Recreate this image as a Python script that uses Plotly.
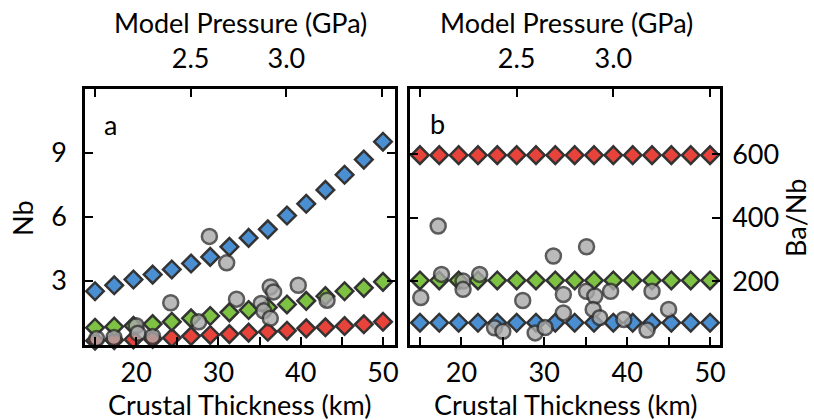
import plotly.graph_objects as go

# ---------------- data ----------------
thickness = [15.0, 17.33, 19.67, 22.0, 24.33, 26.67, 29.0, 31.33, 33.67, 36.0,
             38.33, 40.67, 43.0, 45.33, 47.67, 50.0]

nb_blue = [2.52, 2.80, 3.07, 3.30, 3.54, 3.82, 4.13, 4.60, 5.02, 5.42,
           6.07, 6.62, 7.27, 7.98, 8.69, 9.53]
nb_green = [0.81, 0.86, 0.90, 0.98, 1.09, 1.25, 1.36, 1.53, 1.64, 1.76,
            1.90, 2.07, 2.29, 2.52, 2.68, 2.96]
nb_red = [0.20, 0.23, 0.26, 0.28, 0.34, 0.42, 0.47, 0.51, 0.58, 0.62,
          0.67, 0.78, 0.83, 0.89, 0.97, 1.09]

banb_red = [597] * 16
banb_green = [203] * 16
banb_blue = [70] * 16

obs_nb_x = [15.2, 17.3, 20.0, 20.2, 22.0, 24.2, 27.6, 28.9, 31.0, 32.2,
            35.2, 35.5, 36.3, 36.3, 36.7, 39.7, 43.2]
obs_nb_y = [0.30, 0.35, 0.90, 0.55, 0.40, 1.98, 1.09, 5.09, 3.85, 2.15,
            1.95, 1.60, 1.25, 2.72, 2.49, 2.80, 2.10]

obs_banb_x = [15.1, 17.2, 17.6, 20.2, 20.2, 22.2, 24.0, 25.0, 27.4, 28.9,
              30.1, 31.1, 32.3, 32.3, 35.1, 35.1, 36.1, 35.9, 36.7, 38.0,
              39.6, 42.4, 43.0, 45.0]
obs_banb_y = [149, 374, 222, 201, 175, 222, 54, 43, 140, 38,
              55, 280, 159, 101, 309, 169, 154, 112, 86, 169,
              80, 47, 169, 112]

x_ticks = [15, 20, 25, 30, 35, 40, 45, 50]
x_ticktext = ["", "20", "", "30", "", "40", "", "50"]
p_ticks = [2.0, 2.5, 3.0, 3.5]
p_ticktext = ["", "2.5", "3.0", ""]
nb_ticks = [3, 6, 9]
banb_ticks = [200, 400, 600]

# ---------------- style ----------------
RED = "#e8433a"
GREEN = "#7dc242"
BLUE = "#4b8fd3"
GREY = "#aaaaaa"
EDGE = "#333333"
FONT = "Lato"
FS = 27

W, H = 814, 420


def px(x):
    return x / W


def py(y):
    return 1 - y / H


fig = go.Figure()


def diamonds(x, y, color, xa, ya):
    fig.add_trace(go.Scatter(
        x=x, y=y, mode="markers", xaxis=xa, yaxis=ya, cliponaxis=False,
        marker=dict(symbol="diamond", size=13.5, color=color,
                    line=dict(color=EDGE, width=2.5)),
        showlegend=False, hoverinfo="skip"))


def circles(x, y, xa, ya):
    fig.add_trace(go.Scatter(
        x=x, y=y, mode="markers", xaxis=xa, yaxis=ya, cliponaxis=False,
        marker=dict(symbol="circle", size=15, color=GREY, opacity=0.8,
                    line=dict(color=EDGE, width=2.5)),
        showlegend=False, hoverinfo="skip"))


def pressure_axis(xa, ya):
    # empty trace so the top pressure axis gets drawn
    fig.add_trace(go.Scatter(x=p_ticks, y=[None] * len(p_ticks), mode="markers",
                             xaxis=xa, yaxis=ya, showlegend=False, hoverinfo="skip"))


# panel a
diamonds(thickness, nb_red, RED, "x", "y")
diamonds(thickness, nb_green, GREEN, "x", "y")
diamonds(thickness, nb_blue, BLUE, "x", "y")
circles(obs_nb_x, obs_nb_y, "x", "y")
pressure_axis("x2", "y")
# panel b
diamonds(thickness, banb_blue, BLUE, "x3", "y2")
diamonds(thickness, banb_green, GREEN, "x3", "y2")
diamonds(thickness, banb_red, RED, "x3", "y2")
circles(obs_banb_x, obs_banb_y, "x3", "y2")
pressure_axis("x4", "y2")

dom_a = [px(85), px(395)]
dom_b = [px(410), px(720)]
dom_y = [py(345), py(89)]

common = dict(showline=True, linecolor="black", linewidth=2.5, ticks="inside",
              ticklen=8, tickwidth=2, tickcolor="black", showgrid=False,
              zeroline=False, automargin=False,
              tickfont=dict(family=FONT, size=FS, color="black"))

fig.update_layout(
    width=W, height=H, margin=dict(l=0, r=0, t=0, b=0),
    paper_bgcolor="white", plot_bgcolor="white",
    font=dict(family=FONT, size=FS, color="black"),
    xaxis=dict(domain=dom_a, anchor="y", range=[13.78, 51.46],
               tickvals=x_ticks, ticktext=x_ticktext, ticklabelstandoff=2, **common),
    xaxis2=dict(domain=dom_a, anchor="y", overlaying="x", side="top",
                range=[1.948, 3.568], tickvals=p_ticks, ticktext=p_ticktext,
                ticklabelstandoff=7, **common),
    yaxis=dict(domain=dom_y, anchor="x", range=[0, 12], tickvals=nb_ticks,
               mirror="ticks", ticklabelstandoff=10, **common),
    xaxis3=dict(domain=dom_b, anchor="y2", range=[13.8, 51.2],
                tickvals=x_ticks, ticktext=x_ticktext, ticklabelstandoff=2, **common),
    xaxis4=dict(domain=dom_b, anchor="y2", overlaying="x3", side="top",
                range=[1.948, 3.552], tickvals=p_ticks, ticktext=p_ticktext,
                ticklabelstandoff=7, **common),
    yaxis2=dict(domain=dom_y, anchor="x3", side="right", range=[0, 805],
                tickvals=banb_ticks, mirror="ticks", ticklabelstandoff=4, **common),
)

ann = [
    ("Crustal Thickness (km)", 239, 404, 0),
    ("Crustal Thickness (km)", 565, 404, 0),
    ("Model Pressure (GPa)", 240, 22, 0),
    ("Model Pressure (GPa)", 566, 22, 0),
    ("Nb", 22, 218, -90),
    ("Ba/Nb", 795, 218, -90),
    ("a", 111, 124, 0),
    ("b", 437, 123, 0),
]
for text, x, y, ang in ann:
    fig.add_annotation(text=text, x=px(x), y=py(y), xref="paper", yref="paper",
                       showarrow=False, textangle=ang, xanchor="center",
                       yanchor="middle", font=dict(family=FONT, size=FS, color="black"))

fig.write_html("out.html", config={"displayModeBar": False},
               post_script="document.body.style.margin='0';")
